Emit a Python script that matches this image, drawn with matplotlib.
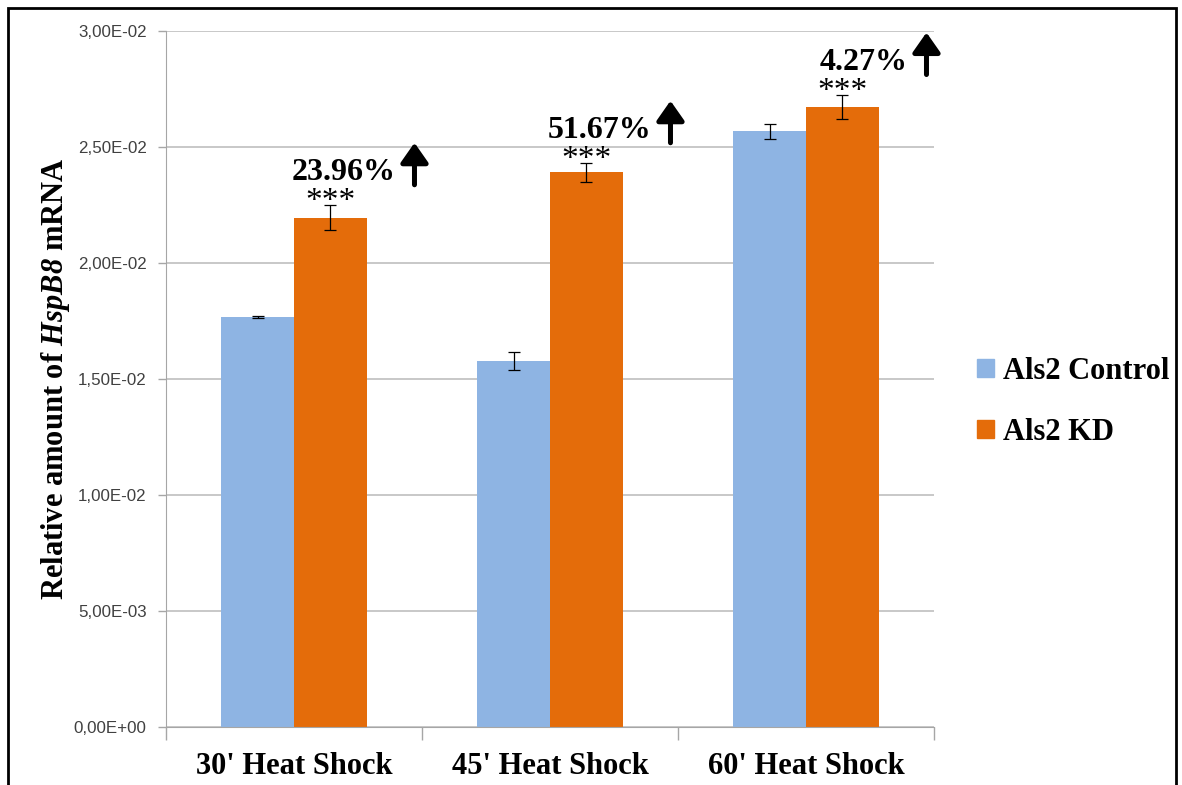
import matplotlib
matplotlib.use("Agg")
import matplotlib.pyplot as plt
import numpy as np
from matplotlib.patches import Rectangle, Patch
from matplotlib.ticker import FuncFormatter, MultipleLocator

categories = ["30' Heat Shock", "45' Heat Shock", "60' Heat Shock"]
series_names = ["Als2 Control", "Als2 KD"]
control = [0.01767, 0.01575, 0.02566]
control_err = [0.00003, 0.00039, 0.00034]
kd = [0.02195, 0.02390, 0.02672]
kd_err = [0.00055, 0.00041, 0.00053]
increase_labels = ["23.96%", "51.67%", "4.27%"]
stars = ["***", "***", "***"]

C_CTRL = "#8EB4E3"
C_KD = "#E46C0A"
GRID = "#BFBFBF"
SERIF = "Liberation Serif"

plt.rcParams["mathtext.fontset"] = "custom"
plt.rcParams["mathtext.bfit"] = "Liberation Serif:italic:bold"
plt.rcParams["mathtext.it"] = "Liberation Serif:italic:bold"

fig = plt.figure(figsize=(11.82, 7.85), dpi=100)
ax = fig.add_axes([166 / 1182, 1 - 727 / 785, 768 / 1182, (727 - 30.7) / 785])

x = np.arange(len(categories))
w = 0.285
ax.bar(x - w / 2, control, w, color=C_CTRL, zorder=2)
ax.bar(x + w / 2, kd, w, color=C_KD, zorder=2)
ekw = dict(fmt="none", ecolor="black", elinewidth=0.9, capsize=4, capthick=0.9, zorder=3)
ax.errorbar(x - w / 2, control, yerr=control_err, **ekw)
ax.errorbar(x + w / 2, kd, yerr=kd_err, **ekw)

ax.set_xlim(-0.5, len(categories) - 0.5)
ax.set_ylim(0, 0.03)

# pixel -> data helpers for annotation placement
px_x = 1.0 / 256
px_y = 0.03 / 696.3

# stars and percentage increase with arrow
for i in range(len(categories)):
    xk = x[i] + w / 2
    top = kd[i] + kd_err[i]
    ax.text(xk, top - 5 * px_y, stars[i], ha="center", va="baseline",
            fontsize=24, family=SERIF, zorder=4)
    xa = xk + 84 * px_x
    ax.annotate("", xy=(xa, top + 62 * px_y), xytext=(xa, top + 20 * px_y),
                arrowprops=dict(arrowstyle="-|>,head_width=0.42,head_length=0.6",
                                lw=3.6, color="black", shrinkA=0, shrinkB=0,
                                mutation_scale=20),
                annotation_clip=False, zorder=4)
    ax.text(xa - 19 * px_x, top + 25 * px_y, increase_labels[i], ha="right",
            va="baseline", fontsize=23, family=SERIF, fontweight="bold", zorder=4)

ax.yaxis.set_major_locator(MultipleLocator(0.005))
ax.yaxis.set_major_formatter(FuncFormatter(lambda v, p: f"{v:.2E}".replace(".", ",")))
ax.grid(axis="y", color=GRID, lw=1.2, zorder=0)
ax.set_axisbelow(True)

ax.set_xticks(x)
ax.set_xticklabels(categories, fontsize=22, family=SERIF, fontweight="bold")
ax.tick_params(axis="x", length=0, pad=18)
ax.set_xticks(np.arange(len(categories) + 1) - 0.5, minor=True)
ax.tick_params(axis="x", which="minor", length=9, color="#A6A6A6", width=1)
ax.tick_params(axis="y", length=6, color="#A6A6A6", width=1, labelsize=12.2,
               labelcolor="#404040", pad=8)
for lab in ax.get_yticklabels():
    lab.set_family("Liberation Sans")

for s in ["top", "right"]:
    ax.spines[s].set_visible(False)
ax.spines["left"].set_color("#A6A6A6")
ax.spines["bottom"].set_color("#A6A6A6")

ax.set_ylabel(r"Relative amount of $\mathbfit{HspB8}$ mRNA", fontsize=22,
              family=SERIF, fontweight="bold", labelpad=1)

handles = [Patch(color=C_CTRL), Patch(color=C_KD)]
fig.legend(handles, series_names, loc="center left", bbox_to_anchor=(977 / 1182, 1 - 402 / 785),
           frameon=False, handlelength=0.55, handleheight=0.55, handletextpad=0.3,
           labelspacing=1.05, borderpad=0, borderaxespad=0,
           prop=dict(family=SERIF, weight="bold", size=22))

fig.patches.append(Rectangle((8 / 1182, -0.05), 1168 / 1182, 1.05 - 8 / 785,
                             transform=fig.transFigure, fill=False, ec="black", lw=2))

fig.savefig("out.png", dpi=100)
